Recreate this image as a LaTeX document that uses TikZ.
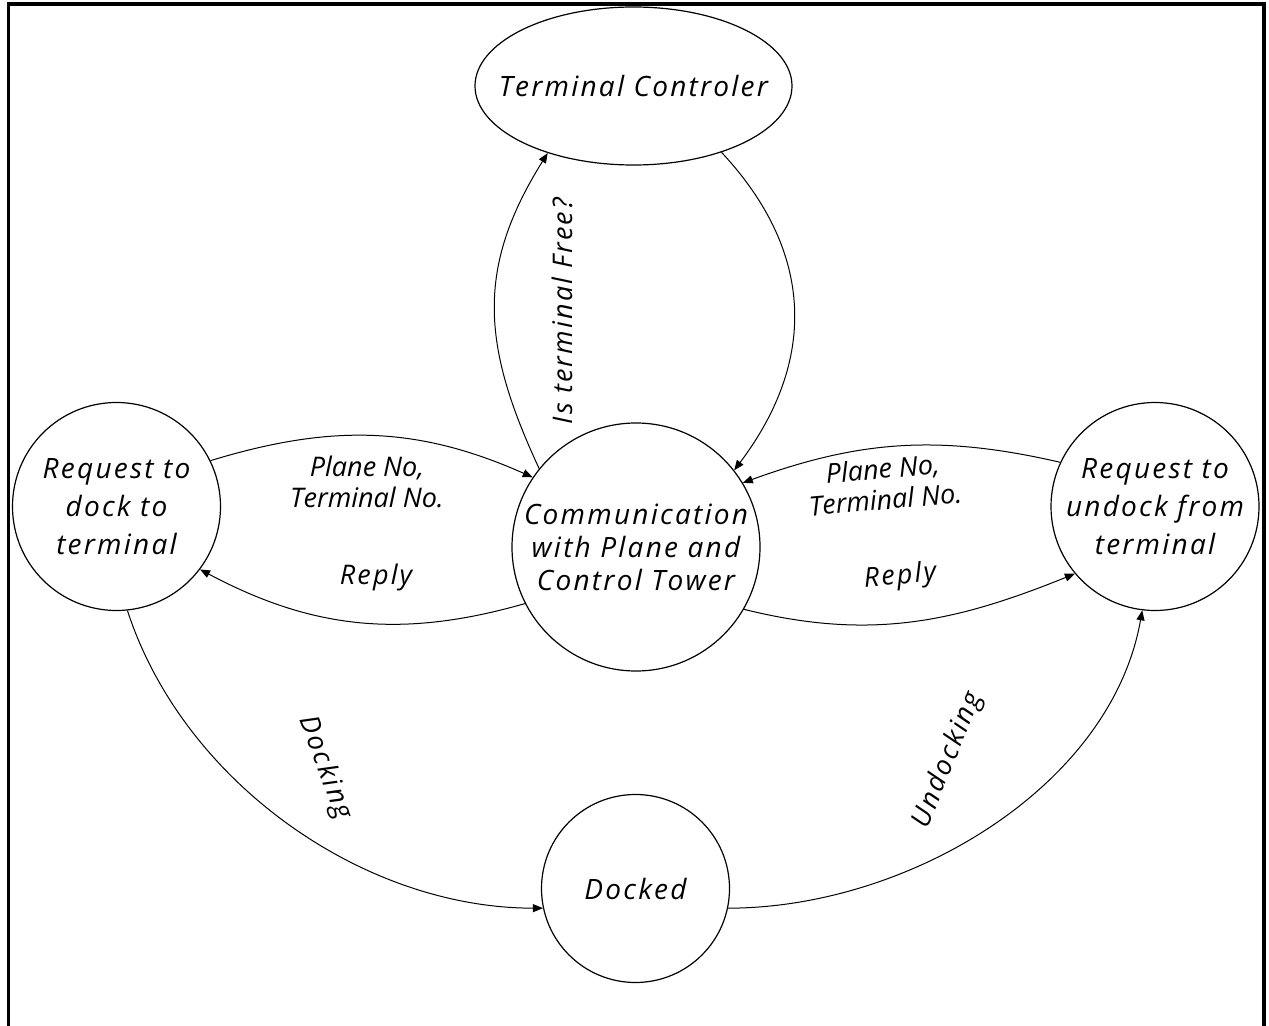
\documentclass[tikz,border=0pt]{standalone}
\usepackage{fontspec}
\setmainfont{Open Sans}[LetterSpace=8]
\usetikzlibrary{arrows.meta,shapes.geometric}
\tikzset{
  state/.style={draw, circle, line width=0.6pt, inner sep=0pt, align=center,
    font=\fontsize{14}{16.5}\selectfont\itshape},
  side/.style={state, font=\fontsize{14}{19}\selectfont\itshape},
  oval/.style={draw, ellipse, line width=0.6pt, inner sep=0pt, align=center,
    font=\fontsize{14}{16.5}\selectfont\itshape},
  lbl/.style={align=center, inner sep=0pt, font=\fontsize{13.5}{15.5}\selectfont\itshape},
  tight/.style={lbl, font=\fontsize{13.5}{15.5}\selectfont\itshape\addfontfeatures{LetterSpace=0}},
  conn/.style={line width=0.5pt, -{Triangle[length=5pt,width=4pt]}},
}
\begin{document}
\begin{tikzpicture}[x=0.5pt, y=-0.5pt]
\useasboundingbox (0,0) rectangle (1269,1026);
\draw[line width=1.6pt] (8.5,1026) -- (8.5,4) -- (1264,4) -- (1264,1026);

\node[oval, minimum width=158.5pt, minimum height=79pt] (tc) at (633.5,86) {\makebox[0pt][c]{Terminal Controler}};
\node[state, minimum size=124pt] (cm) at (636,547) {Communication\\with Plane and\\Control Tower};
\node[side, minimum size=104pt] (rd) at (116.5,506.5) {Request to\\dock to\\terminal};
\node[side, minimum size=104pt] (ru) at (1155,506.5) {Request to\\undock from\\terminal};
\node[state, minimum size=94pt] (dk) at (635.5,888.5) {Docked};

\draw[conn] (rd.26) to[out=17, in=156] (cm.146);
\draw[conn] (cm.207) to[out=196, in=332] (rd.323);
\draw[conn] (ru.155) to[out=167, in=20] (cm.31);
\draw[conn] (cm.330) to[out=-14, in=202] (ru.220);
\draw[conn] (cm.141) to[out=115, in=238, looseness=1.1] (tc.218);
\draw[conn] (tc.323) to[out=-47, in=53, looseness=1.1] (cm.38);
\draw[conn] (rd.276) to[out=-72, in=180, looseness=0.9] (dk.192);
\draw[conn] (dk.-12) to[out=0, in=260, looseness=0.9] (ru.263);

\node[tight] (l1) at (367,482) {Plane No,\\Terminal No.};
\node[lbl] (l2) at (376,577) {Reply};
\node[tight, rotate=5] (l3) at (884,484) {Plane No,\\Terminal No.};
\node[lbl, rotate=5] (l4) at (900,577) {Reply};
\node[lbl, rotate=90] (l5) at (562,311) {Is terminal Free?};
\node[lbl, rotate=-70] (l6) at (325,768) {Docking};
\node[lbl, rotate=68] (l7) at (948,760) {Undocking};
\end{tikzpicture}
\end{document}
